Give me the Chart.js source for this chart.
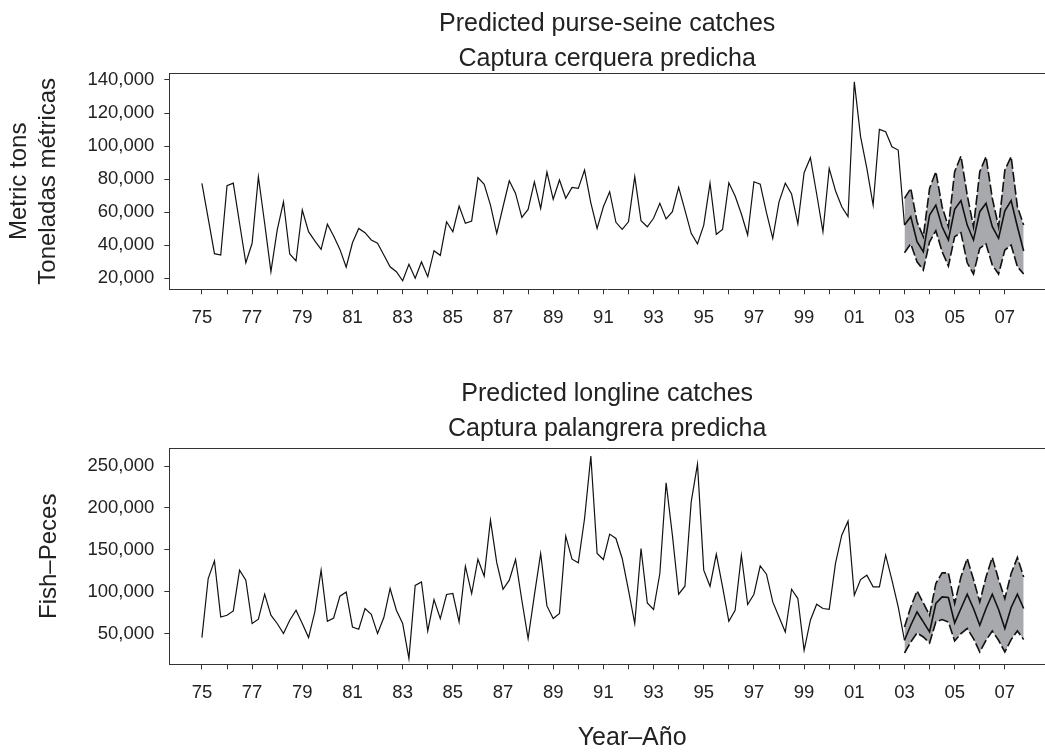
<!DOCTYPE html>
<html>
<head>
<meta charset="utf-8">
<title>Predicted catches</title>
<script src="https://cdn.jsdelivr.net/npm/chart.js@4.4.0/dist/chart.umd.min.js"></script>
<style>
  html, body { margin: 0; padding: 0; background: #fff; }
  #wrap { position: relative; width: 1045px; height: 752px; overflow: hidden; }
  canvas { position: absolute; left: 0; }
  #purse { top: 0; }
  #longline { top: 340px; }
</style>
</head>
<body>
<div id="wrap">
  <canvas id="purse" width="1045" height="340"></canvas>
  <canvas id="longline" width="1045" height="412"></canvas>
</div>
<script>
// quarterly series, first value = 1975 Q1, last observed = 2002 Q4
const START_YEAR = 1975;
const FORECAST_START = 112; // 2003 Q1

const purseCatch = [
  77500, 56300, 34900, 34100, 76000, 77600, 53300, 29400,
  41200, 81500, 53300, 24000, 49200, 66300, 34700, 30500,
  61300, 48200, 42700, 37500, 52700, 45600, 37500, 26700,
  41500, 50200, 47600, 43200, 41200, 34100, 27000, 24000,
  18500, 28500, 20000, 29900, 21000, 36700, 33900, 54200,
  48200, 63700, 53300, 54700, 80900, 76900, 64300, 47200,
  63300, 79000, 71400, 56900, 61700, 78400, 62300, 84300,
  67800, 79500, 68400, 75000, 74400, 85500, 65700, 50200,
  63300, 72400, 53900, 49600, 54200, 81500, 54800, 51200,
  56300, 65400, 55900, 60300, 75000, 61300, 47200, 40800,
  52200, 77500, 46600, 49600, 77800, 69800, 58900, 46200,
  78400, 77000, 59700, 44200, 66300, 77500, 71000, 52900,
  83900, 93000, 71000, 48200, 86500, 73000, 63300, 57300,
  138900, 105700, 86500, 64300, 110100, 108700, 99600, 97600
];
const purseHigh = [68400, 74400, 54200, 45200, 74400, 84500, 63300, 51200, 84500, 94000,
  70400, 51200, 84500, 93600, 68400, 51200, 85500, 93600, 63300, 52200];
const purseMean = [52200, 57300, 42100, 36100, 58300, 64300, 51200, 43200, 61700, 67000,
  52200, 43200, 60300, 65400, 51200, 44200, 60900, 67000, 51200, 36500];
const purseLow = [35500, 40800, 30000, 25000, 42100, 48800, 36100, 27400, 45200, 47600,
  29400, 22600, 38200, 40800, 28000, 22600, 37100, 40100, 27000, 22600];

const longCatch = [
  45200, 115700, 136800, 69800, 71900, 77000, 125700, 113700,
  62000, 67100, 97000, 71900, 62000, 50000, 65900, 77800,
  62000, 45200, 75800, 125700, 64700, 68600, 94600, 99700,
  57900, 55100, 79900, 73100, 50000, 69100, 103800, 77800,
  62000, 20100, 107400, 111700, 53100, 90600, 67900, 96600,
  97800, 63900, 130400, 97800, 138800, 118500, 185400, 134600,
  102900, 113700, 138400, 89800, 44000, 95800, 145600, 83000,
  67900, 73900, 166300, 138800, 134400, 187400, 261900, 145600,
  138400, 168700, 163500, 139600, 101800, 62000, 151600, 86600,
  78700, 121700, 230000, 167500, 97000, 106500, 207300, 252300,
  125700, 106500, 144800, 105700, 64700, 77800, 143600, 84700,
  97000, 130800, 120900, 87800, 69800, 51900, 102900, 91800,
  30000, 65900, 85000, 79900, 79000, 133700, 167500, 184200,
  95800, 114500, 119700, 105700, 105700, 143600, 113700, 81800
];
const longHigh = [57900, 81800, 100900, 86600, 71900, 109800, 122400, 122400, 85900, 117600,
  139600, 114500, 87800, 117600, 140800, 114500, 91800, 121700, 140800, 117600];
const longMean = [42000, 59900, 75800, 63900, 51900, 85900, 93700, 93000, 62700, 79900,
  97000, 79900, 59900, 79900, 97000, 78700, 56000, 81100, 97000, 79900];
const longLow = [26800, 40000, 50700, 45900, 38800, 63900, 66700, 63900, 41200, 50000,
  56000, 44000, 28000, 42000, 53100, 42000, 28000, 42800, 53100, 42800];

const yearTicks = [];
for (let y = 1975; y <= 2007; y++) yearTicks.push(y);
const purseTicks = [20000, 40000, 60000, 80000, 100000, 120000, 140000];
const longTicks = [50000, 100000, 150000, 200000, 250000];

const FONT = "'Liberation Sans', Arial, Helvetica, sans-serif";
const INK = '#222';
const BAND = '#a7a9ac';

Chart.defaults.font.family = FONT;
Chart.defaults.color = INK;

const xOf = i => START_YEAR + i / 4;
const toPoints = (vals, from) => vals.map((v, k) => ({x: xOf(from + k), y: v}));

// top border of the plot frame
const frameTop = {
  id: 'frameTop',
  afterDraw(chart) {
    const {ctx, chartArea: a} = chart;
    ctx.save();
    ctx.strokeStyle = '#333';
    ctx.lineWidth = 1;
    ctx.beginPath();
    ctx.moveTo(a.left, Math.round(a.top) + 0.5);
    ctx.lineTo(a.right, Math.round(a.top) + 0.5);
    ctx.stroke();
    ctx.restore();
  }
};

// x caption, sits a little right of the plot centre in the original
const caption = {
  id: 'caption',
  afterDraw(chart, args, opts) {
    if (!opts.text) return;
    const {ctx, chartArea: a} = chart;
    ctx.save();
    ctx.font = '25px ' + FONT;
    ctx.fillStyle = INK;
    ctx.textAlign = 'center';
    ctx.textBaseline = 'middle';
    ctx.fillText(opts.text, (a.left + a.right) / 2 + opts.dx, a.bottom + opts.dy);
    ctx.restore();
  }
};

function panel(id, p) {
  const hist = toPoints(p.actual, 0);
  hist.push({x: xOf(FORECAST_START), y: p.mean[0]});

  return new Chart(document.getElementById(id), {
    type: 'line',
    data: {
      datasets: [
        {data: toPoints(p.high, FORECAST_START), borderColor: '#111', borderWidth: 1.6,
         borderDash: [10, 3], fill: false},
        {data: toPoints(p.low, FORECAST_START), borderColor: '#111', borderWidth: 1.6,
         borderDash: [10, 3], fill: '-1', backgroundColor: BAND},
        {data: toPoints(p.mean, FORECAST_START), borderColor: '#111', borderWidth: 1.6, fill: false},
        {data: hist, borderColor: '#111', borderWidth: 1.2, fill: false}
      ]
    },
    options: {
      responsive: false,
      animation: false,
      events: [],
      elements: {point: {radius: 0}, line: {tension: 0}},
      layout: {padding: 0},
      plugins: {
        legend: {display: false},
        tooltip: {enabled: false},
        filler: {drawTime: 'beforeDatasetsDraw'},
        title: {
          display: true,
          text: p.title,
          fullSize: false,
          color: INK,
          font: {size: 25, weight: 'normal', lineHeight: 1.38},
          padding: p.titlePad
        },
        caption: p.caption || {}
      },
      scales: {
        x: {
          type: 'linear',
          min: 1973.7,
          max: 2008.6,
          afterBuildTicks: s => { s.ticks = yearTicks.map(v => ({value: v})); },
          afterFit: s => { s.height = p.xHeight; },
          ticks: {
            autoSkip: false,
            maxRotation: 0,
            padding: 13,
            color: INK,
            font: {size: 18.5},
            callback: v => (v % 2 === 1 ? String(v).slice(2) : '')
          },
          grid: {drawOnChartArea: false, drawTicks: true, tickLength: 5, color: '#333'},
          border: {display: true, color: '#333', width: 1}
        },
        y: {
          min: p.yMin,
          max: p.yMax,
          afterBuildTicks: s => { s.ticks = p.yTicks.map(v => ({value: v})); },
          afterFit: s => { s.width = 169.3; },
          ticks: {
            padding: 10,
            color: INK,
            font: {size: 18.5},
            callback: v => v.toLocaleString('en-US')
          },
          grid: {drawOnChartArea: false, drawTicks: true, tickLength: 5, color: '#333'},
          border: {display: true, color: '#333', width: 1},
          title: {
            display: true,
            text: p.yTitle,
            color: INK,
            font: {size: 24, lineHeight: 1.1875},
            padding: p.yTitlePad
          }
        }
      }
    },
    plugins: [frameTop, caption]
  });
}

panel('purse', {
  actual: purseCatch, high: purseHigh, mean: purseMean, low: purseLow,
  title: ['Predicted purse-seine catches', 'Captura cerquera predicha'],
  titlePad: {top: 6.9, bottom: -2.6},
  yTitle: ['Metric tons', 'Toneladas métricas'],
  yTitlePad: {top: 5.2, bottom: 0},
  yMin: 13345, yMax: 144050, yTicks: purseTicks,
  xHeight: 50.7
});

panel('longline', {
  actual: longCatch, high: longHigh, mean: longMean, low: longLow,
  title: ['Predicted longline catches', 'Captura palangrera predicha'],
  titlePad: {top: 37.2, bottom: 2.1},
  yTitle: 'Fish\u2013Peces',
  yTitlePad: {top: 35.4, bottom: 0},
  yMin: 13310, yMax: 271150, yTicks: longTicks,
  xHeight: 87.7,
  caption: {text: 'Year\u2013A\u00f1o', dx: 25, dy: 73.7}
});
</script>
</body>
</html>
